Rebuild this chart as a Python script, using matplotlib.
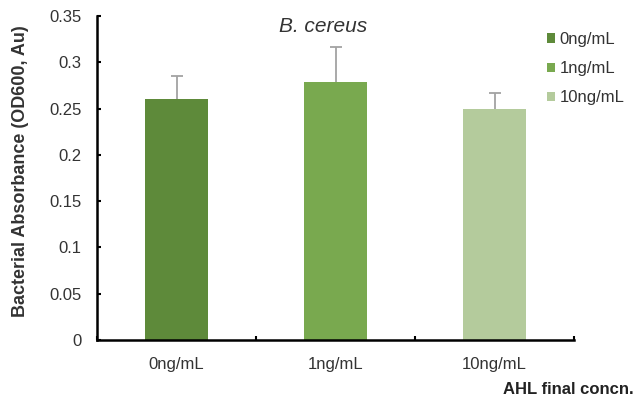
import matplotlib
matplotlib.use('Agg')
from matplotlib import pyplot as plt
import numpy as np

categories = ['0ng/mL', '1ng/mL', '10ng/mL']
absorbance = [0.260, 0.279, 0.249]
errors = [0.025, 0.038, 0.018]
barColors = ['#5e8a3a', '#79a94f', '#b4cb9c']

plt.rc('font', family=['Liberation Sans', 'DejaVu Sans'], size=12)

fig = plt.figure(figsize=(6.36, 4.04), dpi=100)
ax = fig.add_axes([97 / 636, 64 / 404, 477 / 636, 324 / 404])

x = np.arange(len(categories))
tops = np.array(absorbance) + np.array(errors)
bars = ax.bar(x, absorbance, width=0.40, color=barColors, label=categories, zorder=2)
# upper half of the error bars only
ax.vlines(x, absorbance, tops, color='#a3a3a3', linewidth=1.3, zorder=1)
ax.plot(x, tops, linestyle='none', marker='_', markersize=8, markeredgewidth=1.3,
        color='#a3a3a3', zorder=1)

ax.set_xlim(-0.5, 2.5)
ax.set_ylim(0, 0.35)
ax.set_yticks(np.arange(0, 0.351, 0.05))
ax.set_yticklabels(['0', '0.05', '0.1', '0.15', '0.2', '0.25', '0.3', '0.35'], color='#333333')
ax.set_xticks(x)
ax.set_xticklabels(categories, color='#333333')
ax.set_xticks([-0.5, 0.5, 1.5, 2.5], minor=True)
ax.tick_params(axis='x', which='major', length=0, pad=12)
ax.tick_params(axis='x', which='minor', direction='in', length=3, width=1.5)
ax.tick_params(axis='y', direction='in', length=3, width=1.5, pad=11)

for side in ['top', 'right']:
	ax.spines[side].set_visible(False)
for side in ['left', 'bottom']:
	ax.spines[side].set_linewidth(1.8)

fig.text(323 / 636, 1 - 26 / 404, 'B. cereus', fontstyle='italic', fontsize=15,
         color='#333333', ha='center', va='center')
ax.set_ylabel('Bacterial Absorbance (OD600, Au)', fontweight='bold', fontsize=13,
              color='#333333')
ax.yaxis.set_label_coords(-0.142, 0.52)
fig.text(0.996, 1 - 389 / 404, 'AHL final concn.', fontweight='bold', fontsize=12,
         ha='right', va='center', color='#222222')

ax.legend(bars, categories, loc='upper left', bbox_to_anchor=(547 / 636, 1 - 32 / 404),
          bbox_transform=fig.transFigure, frameon=False, borderpad=0, borderaxespad=0,
          handlelength=0.5, handleheight=0.5, handletextpad=0.25, labelspacing=0.85,
          fontsize=12, labelcolor='#333333')

plt.savefig('out.png', dpi=100)
